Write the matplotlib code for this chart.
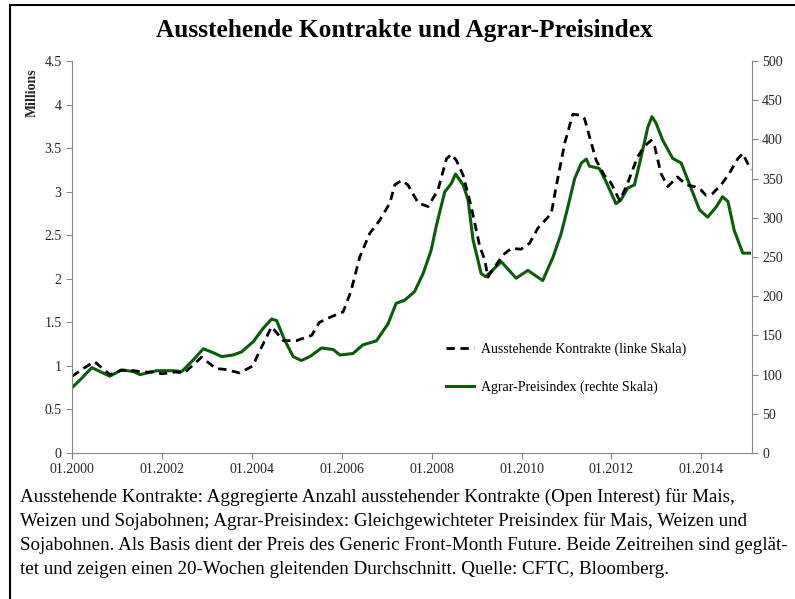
import numpy as np
import matplotlib.pyplot as plt
from matplotlib.patches import Rectangle

# Open interest (left scale, millions) - decimal year / value
oi_x = [2000.0, 2000.25, 2000.5, 2000.84, 2001.1, 2001.3, 2001.6, 2001.8, 2002.0, 2002.3,
        2002.5, 2002.88, 2003.2, 2003.4, 2003.73, 2004.02, 2004.2, 2004.44, 2004.7, 2004.99,
        2005.33, 2005.5, 2005.7, 2006.03, 2006.2, 2006.4, 2006.62, 2006.84, 2007.07, 2007.18,
        2007.33, 2007.47, 2007.7, 2007.92, 2008.14, 2008.33, 2008.44, 2008.55, 2008.7, 2008.88,
        2009.07, 2009.18, 2009.25, 2009.58, 2009.77, 2009.99, 2010.18, 2010.36, 2010.66, 2010.77,
        2010.96, 2011.14, 2011.29, 2011.4, 2011.55, 2011.66, 2011.84, 2011.99, 2012.18, 2012.33,
        2012.58, 2012.73, 2012.88, 2012.96, 2013.1, 2013.25, 2013.47, 2013.66, 2013.84, 2013.99,
        2014.1, 2014.25, 2014.44, 2014.62, 2014.81, 2014.92, 2015.1]
oi_val = [0.88, 0.97, 1.05, 0.90, 0.95, 0.95, 0.93, 0.93, 0.91, 0.93,
          0.92, 1.10, 0.97, 0.96, 0.92, 1.00, 1.20, 1.45, 1.29, 1.29,
          1.35, 1.50, 1.55, 1.62, 1.85, 2.25, 2.52, 2.67, 2.87, 3.08,
          3.13, 3.08, 2.87, 2.83, 3.02, 3.38, 3.43, 3.36, 3.19, 2.83,
          2.37, 2.22, 2.02, 2.27, 2.35, 2.34, 2.41, 2.58, 2.75, 3.06,
          3.56, 3.89, 3.88, 3.84, 3.56, 3.36, 3.19, 3.10, 2.90, 3.06,
          3.40, 3.52, 3.59, 3.52, 3.21, 3.06, 3.17, 3.08, 3.06, 3.02,
          2.96, 2.98, 3.08, 3.21, 3.38, 3.44, 3.25]

# Agrar price index (right scale)
px_x = [2000.01, 2000.21, 2000.44, 2000.62, 2000.84, 2001.1, 2001.36, 2001.51, 2001.88, 2002.25,
        2002.44, 2002.7, 2002.92, 2003.14, 2003.33, 2003.58, 2003.77, 2004.03, 2004.25, 2004.44,
        2004.55, 2004.73, 2004.92, 2005.1, 2005.29, 2005.55, 2005.81, 2005.96, 2006.25, 2006.47,
        2006.77, 2007.03, 2007.21, 2007.4, 2007.62, 2007.81, 2007.99, 2008.1, 2008.29, 2008.44,
        2008.53, 2008.7, 2008.81, 2008.92, 2009.03, 2009.1, 2009.2, 2009.55, 2009.88, 2010.14,
        2010.47, 2010.7, 2010.88, 2011.03, 2011.18, 2011.33, 2011.44, 2011.51, 2011.73, 2011.88,
        2012.03, 2012.1, 2012.21, 2012.36, 2012.51, 2012.66, 2012.81, 2012.9, 2012.99, 2013.14,
        2013.36, 2013.55, 2013.7, 2013.96, 2014.14, 2014.33, 2014.47, 2014.59, 2014.73, 2014.92,
        2015.07]
px_val = [84, 95, 109, 104, 98, 106, 104, 100, 105, 105,
          104, 119, 133, 128, 123, 125, 129, 142, 159, 171,
          169, 144, 123, 118, 123, 134, 132, 125, 127, 138,
          143, 165, 191, 195, 206, 229, 259, 289, 333, 344,
          356, 342, 323, 272, 246, 229, 225, 244, 223, 233,
          220, 250, 280, 314, 350, 370, 375, 366, 363, 346,
          327, 318, 323, 338, 342, 378, 416, 429, 421, 399,
          376, 370, 348, 310, 301, 314, 327, 321, 284, 255,
          255]

year_ticks = [2000, 2002, 2004, 2006, 2008, 2010, 2012, 2014]
year_labels = ['01.2000', '01.2002', '01.2004', '01.2006', '01.2008', '01.2010', '01.2012', '01.2014']

title = 'Ausstehende Kontrakte und Agrar-Preisindex'
caption = ['Ausstehende Kontrakte: Aggregierte Anzahl ausstehender Kontrakte (Open Interest) für Mais,',
           'Weizen und Sojabohnen; Agrar-Preisindex: Gleichgewichteter Preisindex für Mais, Weizen und',
           'Sojabohnen. Als Basis dient der Preis des Generic Front-Month Future. Beide Zeitreihen sind geglät-',
           'tet und zeigen einen 20-Wochen gleitenden Durchschnitt. Quelle: CFTC, Bloomberg.']

plt.rcParams['font.family'] = 'Liberation Serif'
grey = '#868686'
txt = '#262626'

fig = plt.figure(figsize=(7.95, 5.99), dpi=100)
ax = fig.add_axes([0.0906, 0.2437, 0.855, 0.6543])
ax2 = ax.twinx()

l1, = ax.plot(oi_x, oi_val, color='black', lw=2.0, ls=(0, (3, 2)),
              label='Ausstehende Kontrakte (linke Skala)')
l2, = ax2.plot(px_x, px_val, color='#0a5c0a', lw=2.2,
               label='Agrar-Preisindex (rechte Skala)')
ax.set_zorder(ax2.get_zorder() + 1)
ax.patch.set_visible(False)

ax.set_xlim(2000, 2015.12)
ax.set_ylim(0, 4.5)
ax2.set_ylim(0, 500)
ax.set_yticks(np.arange(0, 4.51, 0.5))
ax.set_yticklabels(['0', '0.5', '1', '1.5', '2', '2.5', '3', '3.5', '4', '4.5'])
ax2.set_yticks(np.arange(0, 501, 50))
ax.set_xticks(year_ticks)
ax.set_xticklabels(year_labels)

for a in (ax, ax2):
    a.spines['top'].set_visible(False)
    for s in a.spines.values():
        s.set_color(grey)
    a.tick_params(colors=grey, labelcolor=txt, labelsize=10, length=4, direction='out')
ax.spines['right'].set_visible(False)
ax2.spines['left'].set_visible(False)
ax2.spines['bottom'].set_visible(False)

fig.text(0.040, 0.846, 'Millions', rotation=90, fontsize=10, fontweight='bold',
         ha='center', va='center', color=txt)

ax.legend(handles=[l1, l2], loc='upper left', bbox_to_anchor=(0.542, 0.295),
          frameon=False, fontsize=10, handlelength=2.0, handletextpad=0.5,
          labelspacing=1.75, borderaxespad=0)

fig.text(0.509, 0.949, title, fontsize=18.3, fontweight='bold', ha='center', va='center')

for i, line in enumerate(caption):
    fig.text(0.025, 1 - (497 + 24 * i) / 599, line, fontsize=13.7, ha='left', va='center')

fig.add_artist(Rectangle((10 / 795, -0.01), 1, 1 - 5 / 599 + 0.01, transform=fig.transFigure,
                         fill=False, edgecolor='black', lw=1.5))

fig.savefig('out.png', dpi=100)
